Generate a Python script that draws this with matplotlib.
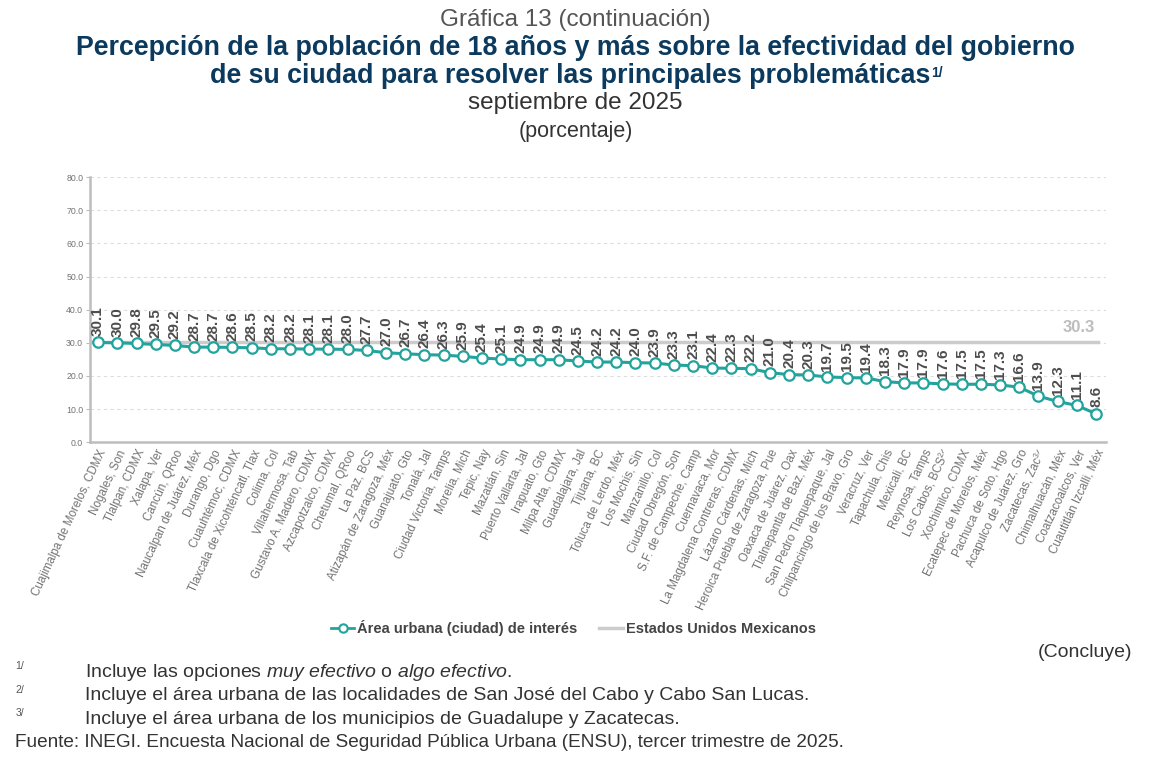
import numpy as np
import matplotlib
matplotlib.use('Agg')
import matplotlib.pyplot as plt
from matplotlib.lines import Line2D

plt.rcParams['font.family'] = ['Liberation Sans', 'DejaVu Sans']
plt.rcParams['mathtext.fontset'] = 'custom'
plt.rcParams['mathtext.it'] = 'Liberation Sans:italic'
plt.rcParams['mathtext.rm'] = 'Liberation Sans'

ciudades = [
    'Cuajimalpa de Morelos, CDMX', 'Nogales, Son', 'Tlalpan, CDMX', 'Xalapa, Ver',
    'Cancún, QRoo', 'Naucalpan de Juárez, Méx', 'Durango, Dgo', 'Cuauhtémoc, CDMX',
    'Tlaxcala de Xicohténcatl, Tlax', 'Colima, Col', 'Villahermosa, Tab',
    'Gustavo A. Madero, CDMX', 'Azcapotzalco, CDMX', 'Chetumal, QRoo', 'La Paz, BCS',
    'Atizapán de Zaragoza, Méx', 'Guanajuato, Gto', 'Tonalá, Jal',
    'Ciudad Victoria, Tamps', 'Morelia, Mich', 'Tepic, Nay', 'Mazatlán, Sin',
    'Puerto Vallarta, Jal', 'Irapuato, Gto', 'Milpa Alta, CDMX', 'Guadalajara, Jal',
    'Tijuana, BC', 'Toluca de Lerdo, Méx', 'Los Mochis, Sin', 'Manzanillo, Col',
    'Ciudad Obregón, Son', 'S.F. de Campeche, Camp', 'Cuernavaca, Mor',
    'La Magdalena Contreras, CDMX', 'Lázaro Cárdenas, Mich',
    'Heroica Puebla de Zaragoza, Pue', 'Oaxaca de Juárez, Oax',
    'Tlalnepantla de Baz, Méx', 'San Pedro Tlaquepaque, Jal',
    'Chilpancingo de los Bravo, Gro', 'Veracruz, Ver', 'Tapachula, Chis',
    'Mexicali, BC', 'Reynosa, Tamps', 'Los Cabos, BCS²ᐟ', 'Xochimilco, CDMX',
    'Ecatepec de Morelos, Méx', 'Pachuca de Soto, Hgo', 'Acapulco de Juárez, Gro',
    'Zacatecas, Zac³ᐟ', 'Chimalhuacán, Méx', 'Coatzacoalcos, Ver',
    'Cuautitlán Izcalli, Méx',
]
area_urbana = [
    30.1, 30.0, 29.8, 29.5, 29.2, 28.7, 28.7, 28.6, 28.5, 28.2, 28.2, 28.1, 28.1,
    28.0, 27.7, 27.0, 26.7, 26.4, 26.3, 25.9, 25.4, 25.1, 24.9, 24.9, 24.9, 24.5,
    24.2, 24.2, 24.0, 23.9, 23.3, 23.1, 22.4, 22.3, 22.2, 21.0, 20.4, 20.3, 19.7,
    19.5, 19.4, 18.3, 17.9, 17.9, 17.6, 17.5, 17.5, 17.3, 16.6, 13.9, 12.3, 11.1, 8.6,
]
nacional = 30.3

teal = '#22a39b'
gris = '#737373'

fig = plt.figure(figsize=(11.7, 7.8), dpi=100)
ax = fig.add_axes([0.077, 0.433, 0.868, 0.34])

x = np.arange(len(ciudades))
ax.plot([x[0] - 0.4, x[-1] + 0.1], [nacional, nacional], color='#cccccc', lw=2.5, zorder=2)
ax.text(x[-1] - 0.9, nacional + 2.0, f'{nacional:.1f}', ha='center', va='bottom',
        fontsize=12, fontweight='bold', color='#bdbdbd')
ax.plot(x, area_urbana, color=teal, lw=2.2, marker='o', ms=7.5, mfc='white',
        mec=teal, mew=1.6, zorder=3)
for xi, v in zip(x, area_urbana):
    ax.text(xi, v + 1.9, f'{v:.1f}', rotation=90, ha='center', va='bottom',
            fontsize=11, fontweight='bold', color='#4d4d4d')

ax.set_xlim(-0.42, len(ciudades) - 0.5)
ax.set_ylim(0, 80)
ax.set_yticks(np.arange(0, 81, 10))
ax.set_yticklabels([f'{t:.1f}' for t in range(0, 81, 10)], fontsize=6.3, color=gris)
ax.yaxis.grid(True, ls=(0, (3, 3)), color='#dddddd', lw=0.8)
ax.set_axisbelow(True)
ax.set_xticks(x)
ax.set_xticklabels(ciudades, rotation=65, ha='right', rotation_mode='anchor',
                   fontsize=8.4, color=gris)
ax.tick_params(axis='x', length=0, pad=4)
ax.tick_params(axis='y', length=3, color='#bbbbbb', pad=2)
for s in ['top', 'right']:
    ax.spines[s].set_visible(False)
for s in ['left', 'bottom']:
    ax.spines[s].set_color('#bdbdbd')
    ax.spines[s].set_linewidth(1.8)

handles = [
    Line2D([], [], color=teal, lw=2, marker='o', mfc='white', mec=teal, ms=6, mew=1.5),
    Line2D([], [], color='#cccccc', lw=2.5),
]
fig.legend(handles, ['Área urbana (ciudad) de interés', 'Estados Unidos Mexicanos'],
           loc='center', bbox_to_anchor=(0.49, 0.195), ncol=2, frameon=False,
           prop={'weight': 'bold', 'size': 10.5}, labelcolor='#444444',
           handlelength=1.6, handletextpad=0.2, columnspacing=1.5)

fig.text(0.492, 0.974, 'Gráfica 13 (continuación)', ha='center', va='center',
         fontsize=17.5, color='#555555')
fig.text(0.492, 0.939, 'Percepción de la población de 18 años y más sobre la efectividad del gobierno',
         ha='center', va='center', fontsize=19.3, fontweight='bold', color='#0b3a5e')
t2 = fig.text(0.487, 0.903, 'de su ciudad para resolver las principales problemáticas',
              ha='center', va='center', fontsize=19.3, fontweight='bold', color='#0b3a5e')
bb = t2.get_window_extent(fig.canvas.get_renderer()).transformed(fig.transFigure.inverted())
fig.text(bb.x1 + 0.001, bb.y1 - 0.004, '1/', ha='left', va='top', fontsize=10,
         fontweight='bold', color='#0b3a5e')
fig.text(0.492, 0.868, 'septiembre de 2025', ha='center', va='center',
         fontsize=17.5, color='#333333')
fig.text(0.492, 0.832, '(porcentaje)', ha='center', va='center',
         fontsize=15.5, color='#333333')

fig.text(0.968, 0.164, '(Concluye)', ha='right', va='center', fontsize=14, color='#333333')
notas = [
    ('1/', 'Incluye las opciones $\\mathit{muy\\ efectivo}$ o $\\mathit{algo\\ efectivo}$.'),
    ('2/', 'Incluye el área urbana de las localidades de San José del Cabo y Cabo San Lucas.'),
    ('3/', 'Incluye el área urbana de los municipios de Guadalupe y Zacatecas.'),
]
for i, (sup, txt) in enumerate(notas):
    yy = 0.138 - i * 0.030
    fig.text(0.013, yy + 0.008, sup, fontsize=7.5, color='#555555', va='center')
    fig.text(0.073, yy, txt, fontsize=14, color='#333333', va='center')
fig.text(0.013, 0.048, 'Fuente: INEGI. Encuesta Nacional de Seguridad Pública Urbana (ENSU), tercer trimestre de 2025.',
         fontsize=13.7, color='#333333', va='center')

fig.savefig('out.png', dpi=100)
